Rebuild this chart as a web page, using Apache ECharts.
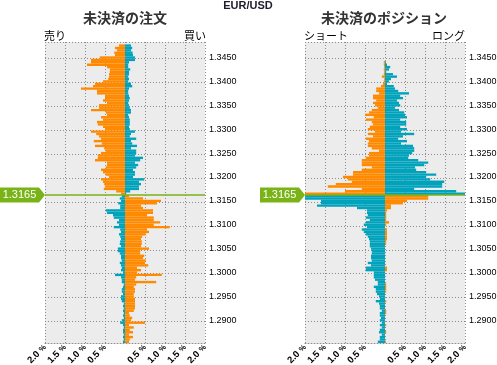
<!DOCTYPE html>
<html><head><meta charset="utf-8">
<script src="https://cdn.jsdelivr.net/npm/echarts@6/dist/echarts.min.js"></script>
<style>html,body{margin:0;padding:0;background:#fff}#c{width:497px;height:365px}</style>
</head><body><div id="c"></div>
<script>
// ---- data (price buckets listed from top 1.3480 down to 1.2855, step 0.0005) ----
const topPrice = 1.3480;
const bucketStep = 0.0005;
const currentPrice = 1.3165;
const tickLabels = ['1.3450','1.3400','1.3350','1.3300','1.3250','1.3200','1.3150','1.3100','1.3050','1.3000','1.2950','1.2900'];
const xTickValues = [-2, -1.5, -1, -0.5, 0, 0.5, 1, 1.5, 2];

// 未決済の注文 : sell side (left) and buy side (right), % of total
const orderSell = [0,.15,.25,.2,.27,.25,.63,.85,.85,.95,.45,.38,.38,.4,.4,.42,.55,.75,.8,1.1,.7,.7,.5,.5,.55,.45,.65,.65,.85,.48,.45,.6,.55,.7,.68,.55,.5,.85,.72,.65,.6,.78,.58,.75,.52,.48,.6,.68,.68,.75,.45,.45,.48,.6,.55,.48,.4,.6,.55,.52,.5,.53,.22,.1,
  .08,.13,.1,.17,.12,.12,.48,.45,.3,.28,.15,.2,.15,.28,.12,.1,.15,.12,.1,.12,.13,.1,.18,.18,.13,.1,.1,.08,.13,.1,.08,.1,.05,.25,.1,.08,.08,.03,.05,.08,.08,.05,.1,.1,.08,.03,.05,.03,.05,.03,.05,.03,.08,.12,.05,.03,.05,.05,.03,.05,.03,.05];
const orderBuy = [0,.15,.18,.15,.19,.2,.25,.25,.1,.08,.08,.13,.1,.1,.08,.1,.08,.15,.18,.1,.08,.08,.1,.12,.1,.08,.1,.12,.15,.15,.08,.1,.12,.12,.12,.1,.12,.25,.15,.12,.28,.15,.18,.3,.15,.28,.28,.25,.45,.38,.25,.33,.28,.2,.25,.25,.2,.48,.35,.4,.35,.35,.13,.03,
  .1,.45,.9,.8,.4,.45,.7,.7,.55,.72,.72,.88,.72,1.12,.55,.6,.52,.43,.4,.42,.42,.4,.6,.38,.38,.48,.45,.52,.5,.58,.3,.4,.3,.92,.28,.25,.78,.28,.22,.25,.25,.22,.22,.25,.25,.25,.25,.25,.22,.1,.12,.18,.15,.5,.1,.22,.12,.2,.1,.2,.12,.1];

// 未決済のポジション : short side (left) and long side (right), % of total
const posShort = [0,0,0,0,0,0,0,0,.03,.03,.02,.03,.02,.03,.08,.02,.03,.05,.1,.22,.22,.15,.3,.3,.22,.3,.25,.18,.33,.4,.5,.28,.48,.33,.3,.38,.43,.25,.43,.3,.48,.4,.43,.43,.33,.15,.4,.4,.48,.58,.58,.58,.33,.58,.8,.8,1.05,.93,.83,1.23,1.43,.58,1.0,2.0,
  2.0,2.0,1.6,1.6,1.7,.7,.45,.45,.43,.48,.38,.48,.53,.45,.58,.53,.48,.43,.4,.38,.38,.38,.35,.33,.33,.35,.35,.33,.43,.35,.48,.48,.28,.28,.28,.25,.18,.18,.28,.23,.23,.2,.15,.13,.23,.15,.13,.13,.08,.13,.13,.1,.13,.08,.13,.08,.13,.15,.08,.13,.13,.18];
const posLong = [0,0,0,0,0,0,0,0,.02,.05,.13,.1,.03,.2,.3,.15,.1,.05,.22,.25,.33,.6,.38,.45,.3,.35,.38,.25,.35,.48,.5,.55,.38,.53,.53,.38,.55,.4,.73,.45,.33,.55,.4,.7,.73,.73,.68,.6,.58,.83,1.08,.98,.75,.78,1.03,1.28,1.03,1.13,1.48,1.43,1.43,.73,1.78,2.0,
  1.08,1.08,.55,.45,.15,.15,.05,.03,.03,.03,.03,.1,.03,0,.05,.05,.05,.05,.05,.03,.03,0,0,0,0,0,0,0,0,0,.05,.05,0,0,0,0,0,.03,.03,.03,.03,0,0,0,.03,0,0,0,.03,.03,0,0,0,0,.03,0,0,.03,0,0,0,.02];

// ---- build ----
const ORANGE = '#ff8a00', TEAL = '#00a3bb', GREEN = '#7ab317', GRIDC = '#8c8c8c';
const FONT = '"Liberation Sans", Arial, sans-serif';
const JFONT = '"Noto Sans CJK JP", sans-serif';
const n = orderSell.length;
const pricesTopDown = orderSell.map((_, i) => (topPrice - i * bucketStep).toFixed(4));
const cats = pricesTopDown.slice().reverse();           // bottom -> top for category axis
const lowEdge = parseFloat(cats[0]);
const highEdge = parseFloat(cats[n - 1]) + bucketStep;
const rev = a => a.slice().reverse();
const isAbove = i => parseFloat(cats[i]) >= currentPrice - 1e-9;
const showTick = (i, v) => tickLabels.indexOf(v) >= 0;

const grids = [
  {left: 45, top: 42, width: 160, height: 301, show: true, backgroundColor: '#ececec', borderWidth: 0, containLabel: false, outerBoundsMode: 'none'},
  {left: 305, top: 42, width: 160, height: 301, show: true, backgroundColor: '#ececec', borderWidth: 0, containLabel: false, outerBoundsMode: 'none'}
];
const dotted = {color: GRIDC, type: [1, 2], width: 1};
const xAxes = [0, 1].map(g => ({
  type: 'value', gridIndex: g, min: xTickValues[0], max: xTickValues[xTickValues.length - 1], interval: 0.5,
  axisLine: {show: true, onZero: false, lineStyle: dotted}, axisTick: {show: false},
  splitLine: {show: true, lineStyle: dotted},
  axisLabel: {rotate: 45, margin: 3, color: '#000', fontSize: 9, fontWeight: 'bold', fontFamily: FONT,
    formatter: v => (Math.abs(v) < 1e-9 ? '' : '{n|' + Math.abs(v).toFixed(1) + ' }{p|%}'),
    rich: {n: {fontSize: 9.5, fontWeight: 'bold', fontFamily: FONT, color: '#000'},
           p: {fontSize: 7.5, fontWeight: 'bold', fontFamily: FONT, color: '#000'}}}
}));
const yAxes = [];
[0, 1].forEach(g => {
  yAxes.push({
    type: 'category', gridIndex: g, data: cats, position: 'right',
    axisLine: {show: false}, axisTick: {show: false},
    axisLabel: {interval: showTick, color: '#000', fontSize: 9, fontFamily: FONT, margin: 4, padding: [3, 0, 0, 0]},
    splitLine: {show: true, interval: showTick, lineStyle: dotted}
  });
  yAxes.push({type: 'value', gridIndex: g, min: lowEdge, max: highEdge, show: false, position: 'left'});
});

function panelSeries(g, leftArr, rightArr) {
  return [
    {type: 'bar', xAxisIndex: g, yAxisIndex: g * 2, data: rev(leftArr).map(v => -v),
      barWidth: '100%', barGap: '-100%', barCategoryGap: 0,
      itemStyle: {color: p => (isAbove(p.dataIndex) ? ORANGE : TEAL)}},
    {type: 'bar', xAxisIndex: g, yAxisIndex: g * 2, data: rev(rightArr),
      barWidth: '100%', barGap: '-100%', barCategoryGap: 0,
      itemStyle: {color: p => (isAbove(p.dataIndex) ? TEAL : ORANGE)}},
    {type: 'scatter', xAxisIndex: g, yAxisIndex: g * 2 + 1, data: [[0, currentPrice]], symbolSize: 0,
      markLine: {silent: true, precision: 6, symbol: ['none', 'none'], label: {show: false},
        lineStyle: {color: GREEN, width: 1.6, type: 'solid'}, data: [{yAxis: currentPrice}]},
      markPoint: {silent: true, data: [{coord: [xTickValues[0], currentPrice]}],
        symbol: 'path://M0,0L39,0L45,7.5L39,15L0,15Z', symbolSize: [45, 15], symbolOffset: [-22.5, 0],
        itemStyle: {color: GREEN},
        label: {show: true, position: 'inside', offset: [-3, 0], color: '#fff', fontSize: 11, fontFamily: FONT,
          formatter: () => currentPrice.toFixed(4)}}}
  ];
}

const txt = (text, x, y, align, font, fill) => ({type: 'text', x: x, y: y, silent: true,
  style: {text: text, align: align, verticalAlign: 'middle', font: font, fill: fill}});

const chart = echarts.init(document.getElementById('c'), null, {renderer: 'canvas'});
chart.setOption({
  animation: false,
  grid: grids,
  xAxis: xAxes,
  yAxis: yAxes,
  series: panelSeries(0, orderSell, orderBuy).concat(panelSeries(1, posShort, posLong)),
  graphic: [
    txt('EUR/USD', 248, 6, 'center', 'bold 11px ' + FONT, '#1c1c2c'),
    txt('未決済の注文', 125, 18, 'center', 'bold 14px ' + JFONT, '#333'),
    txt('未決済のポジション', 384, 18, 'center', 'bold 14px ' + JFONT, '#333'),
    txt('売り', 44, 36, 'left', '11px ' + JFONT, '#000'),
    txt('買い', 206, 36, 'right', '11px ' + JFONT, '#000'),
    txt('ショート', 304, 36, 'left', '11px ' + JFONT, '#000'),
    txt('ロング', 465, 36, 'right', '11px ' + JFONT, '#000')
  ]
});
</script></body></html>
